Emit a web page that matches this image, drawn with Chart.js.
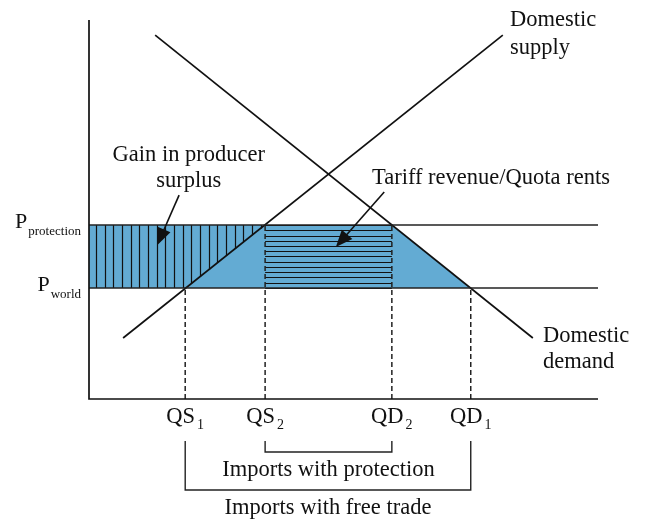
<!DOCTYPE html>
<html>
<head>
<meta charset="utf-8">
<title>Tariff / quota diagram</title>
<script src="https://cdn.jsdelivr.net/npm/chart.js@4.4.0/dist/chart.umd.min.js"></script>
<style>
  body { margin: 0; background: #fff; }
  #wrap { width: 648px; height: 530px; }
</style>
</head>
<body>
<div id="wrap"><canvas id="tradeChart" width="648" height="530"></canvas></div>
<script>
// price levels (y) and their subscripts
const priceNames = ['protection', 'world'];
const priceValues = [45.9, 29.3];

// quantity markers on the x axis
const qtyNames = ['QS', 'QS', 'QD', 'QD'];
const qtySubs = ['1', '2', '2', '1'];
const qtyValues = [18.9, 34.6, 59.5, 75.0];
const qtyPrices = [29.3, 45.9, 45.9, 29.3];

// supply and demand curves
const supplyX = [6.7, 81.3];
const supplyY = [16.1, 96.0];
const demandX = [13.0, 87.2];
const demandY = [96.0, 16.1];

// import brackets under the axis
const bracketNames = ['Imports with protection', 'Imports with free trade'];
const bracketFrom = [qtyValues[1], qtyValues[0]];
const bracketTo = [qtyValues[2], qtyValues[3]];
const bracketDepth = [-14.0, -24.0];
const bracketTop = -11.1;

const Pp = priceValues[0];
const Pw = priceValues[1];

function seg(points, opts) {
    return Object.assign({
        data: points,
        showLine: true,
        pointRadius: 0,
        pointHoverRadius: 0,
        borderColor: '#111',
        borderWidth: 1.7,
        fill: false,
        tension: 0,
        clip: false,
        order: 0
    }, opts);
}

const datasets = [];
// shaded area between the two prices
datasets.push(seg(
    [{x: 0, y: Pp}, {x: qtyValues[2], y: Pp}, {x: qtyValues[3], y: Pw}],
    {borderColor: 'rgba(0,0,0,0)', backgroundColor: '#63abd3', fill: {value: Pw}, order: 1}
));
// axes
datasets.push(seg([{x: 0, y: 100}, {x: 0, y: 0}, {x: 100, y: 0}], {borderWidth: 1.7}));
// price lines
priceValues.forEach(p => datasets.push(seg([{x: 0, y: p}, {x: 100, y: p}], {borderColor: '#222', borderWidth: 1.6})));
// dashed drop lines
qtyValues.forEach((q, i) => datasets.push(seg(
    [{x: q, y: 0}, {x: q, y: qtyPrices[i]}],
    {borderDash: [5, 3], borderColor: '#222', borderWidth: 1.5}
)));
// curves
datasets.push(seg(supplyX.map((x, i) => ({x: x, y: supplyY[i]}))));
datasets.push(seg(demandX.map((x, i) => ({x: x, y: demandY[i]}))));
// brackets
bracketFrom.forEach((a, i) => datasets.push(seg([
    {x: a, y: bracketTop}, {x: a, y: bracketDepth[i]},
    {x: bracketTo[i], y: bracketDepth[i]}, {x: bracketTo[i], y: bracketTop}
], {borderWidth: 1.4, borderColor: '#222'})));

const serif = size => size + 'px "Liberation Serif", "DejaVu Serif", serif';

// hatching drawn right after the blue area
const hatchPlugin = {
    id: 'hatch',
    afterDatasetDraw(chart, args) {
        if (args.index !== 0) return;
        const ctx = chart.ctx;
        const x = chart.scales.x, y = chart.scales.y;
        const slope = (supplyY[1] - supplyY[0]) / (supplyX[1] - supplyX[0]);
        ctx.save();
        ctx.strokeStyle = '#111';
        ctx.lineWidth = 1.2;
        ctx.beginPath();
        for (let v = 1.4; v < qtyValues[1]; v += 1.7) {
            const s = supplyY[0] + (v - supplyX[0]) * slope;
            const bottom = Math.max(Pw, s);
            if (bottom >= Pp) break;
            const px = Math.round(x.getPixelForValue(v)) + 0.5;
            ctx.moveTo(px, y.getPixelForValue(bottom));
            ctx.lineTo(px, y.getPixelForValue(Pp));
        }
        const n = 12;
        for (let k = 0; k <= n; k++) {
            const py = Math.round(y.getPixelForValue(Pw + (Pp - Pw) * k / n)) + 0.5;
            ctx.moveTo(x.getPixelForValue(qtyValues[1]), py);
            ctx.lineTo(x.getPixelForValue(qtyValues[2]), py);
        }
        ctx.stroke();
        ctx.restore();
    }
};

const labelPlugin = {
    id: 'labels',
    afterDraw(chart) {
        const ctx = chart.ctx;
        const X = v => chart.scales.x.getPixelForValue(v);
        const Y = v => chart.scales.y.getPixelForValue(v);
        ctx.save();
        ctx.fillStyle = '#111';
        ctx.strokeStyle = '#111';
        ctx.textBaseline = 'alphabetic';

        function text(t, px, py, size, align) {
            ctx.font = serif(size);
            ctx.textAlign = align || 'left';
            ctx.fillText(t, px, py);
        }
        function arrow(x1, y1, x2, y2) {
            const a = Math.atan2(y2 - y1, x2 - x1), L = 17, W = 7;
            ctx.lineWidth = 1.6;
            ctx.beginPath();
            ctx.moveTo(x1, y1);
            ctx.lineTo(x2 - 10 * Math.cos(a), y2 - 10 * Math.sin(a));
            ctx.stroke();
            ctx.beginPath();
            ctx.moveTo(x2, y2);
            ctx.lineTo(x2 - L * Math.cos(a) + W * Math.sin(a), y2 - L * Math.sin(a) - W * Math.cos(a));
            ctx.lineTo(x2 - L * Math.cos(a) - W * Math.sin(a), y2 - L * Math.sin(a) + W * Math.cos(a));
            ctx.closePath();
            ctx.fill();
        }

        // price labels left of the axis
        priceNames.forEach((n, i) => {
            ctx.font = serif(13);
            const sw = ctx.measureText(n).width;
            const right = X(0) - 8;
            text(n, right - sw, Y(priceValues[i]) + 10, 13);
            text('P', right - sw - 1, Y(priceValues[i]) + 3, 22, 'right');
        });

        // quantity labels under the axis
        qtyNames.forEach((n, i) => {
            ctx.font = serif(22.5);
            const mw = ctx.measureText(n).width;
            ctx.font = serif(14);
            const sw = ctx.measureText(qtySubs[i]).width;
            const left = X(qtyValues[i]) - (mw + sw + 2) / 2;
            const base = Y(0) + 24;
            text(n, left, base, 22.5);
            text(qtySubs[i], left + mw + 2, base + 6, 14);
        });

        // bracket captions
        bracketNames.forEach((n, i) => {
            text(n, (X(bracketFrom[i]) + X(bracketTo[i])) / 2, Y(bracketDepth[i]) + 24, 22.5, 'center');
        });

        // curve names
        text('Domestic', X(82.7), Y(98.4), 22.5);
        text('supply', X(82.7), Y(91.0), 22.5);
        text('Domestic', X(89.2), Y(15.0), 22.5);
        text('demand', X(89.2), Y(8.2), 22.5);

        // area captions with arrows
        text('Gain in producer', X(19.6), Y(62.8), 22.5, 'center');
        text('surplus', X(19.6), Y(55.9), 22.5, 'center');
        arrow(X(17.7), Y(53.8), X(13.4), Y(40.6));
        text('Tariff revenue/Quota rents', X(55.6), Y(56.7), 22.5);
        arrow(X(58.0), Y(54.6), X(48.5), Y(40.1));

        ctx.restore();
    }
};

new Chart(document.getElementById('tradeChart'), {
    type: 'scatter',
    data: { datasets: datasets },
    options: {
        responsive: false,
        animation: false,
        events: [],
        layout: { padding: { left: 89, right: 50, top: 20, bottom: 131 } },
        scales: {
            x: { type: 'linear', display: false, min: 0, max: 100 },
            y: { type: 'linear', display: false, min: 0, max: 100 }
        },
        plugins: {
            legend: { display: false },
            tooltip: { enabled: false }
        }
    },
    plugins: [hatchPlugin, labelPlugin]
});
</script>
</body>
</html>
